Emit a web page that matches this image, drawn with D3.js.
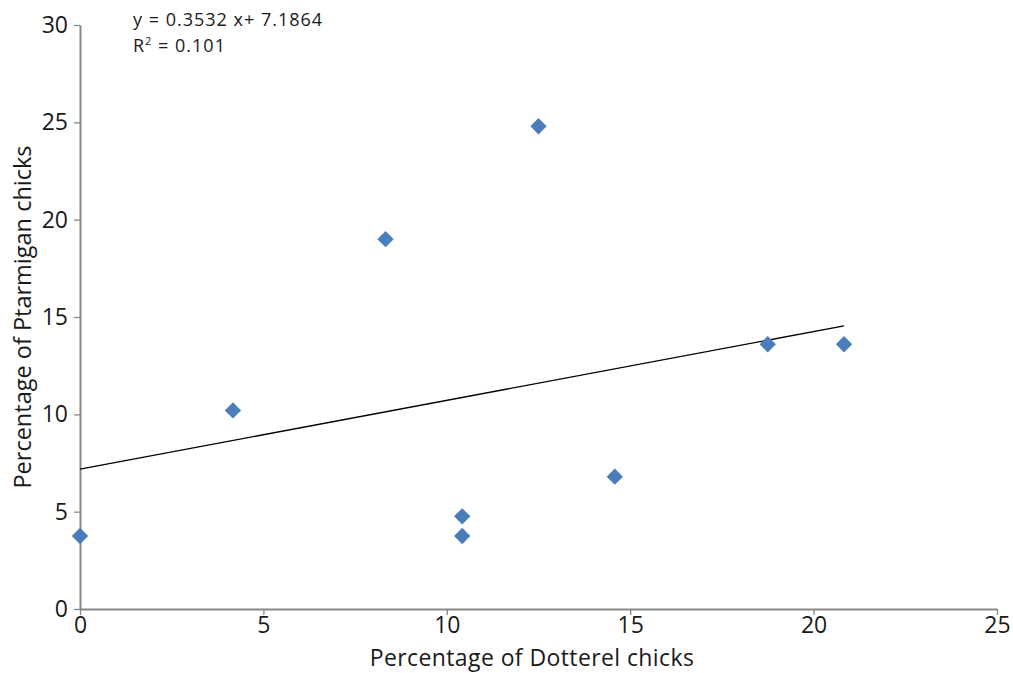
<!DOCTYPE html>
<html>
<head>
<meta charset="utf-8">
<script src="https://cdn.jsdelivr.net/npm/d3@7"></script>
<style>
  body { margin: 0; background: #fff; }
  svg text { font-family: "Open Sans", "DejaVu Sans", sans-serif; fill: #1a1a1a; }
</style>
</head>
<body>
<svg id="chart" width="1013" height="673"></svg>
<script>
var dotterel = [0, 4.17, 8.33, 10.42, 10.42, 12.5, 14.58, 18.75, 20.83];
var ptarmigan = [3.75, 10.2, 19.0, 4.76, 3.75, 24.8, 6.8, 13.6, 13.6];
var xTicks = [0, 5, 10, 15, 20, 25];
var yTicks = [0, 5, 10, 15, 20, 25, 30];
var slope = 0.3532, intercept = 7.1864;
var equationText = "y = 0.3532 x+ 7.1864";
var r2Text = "0.101";

var svg = d3.select('#chart');
var margin = { top: 25, right: 16, bottom: 64, left: 80 };
var width = 1013, height = 673;

var x = d3.scaleLinear().domain([0, 25]).range([margin.left, width - margin.right]);
var y = d3.scaleLinear().domain([0, 30]).range([height - margin.bottom, margin.top]);

// axes
var xAxis = svg.append("g")
    .attr("transform", "translate(0," + y(0) + ")")
    .call(d3.axisBottom(x).tickValues(xTicks).tickSizeInner(6).tickSizeOuter(0).tickPadding(2));
var yAxis = svg.append("g")
    .attr("transform", "translate(" + x(0) + ",0)")
    .call(d3.axisLeft(y).tickValues(yTicks).tickSizeInner(6).tickSizeOuter(0).tickPadding(6));

[xAxis, yAxis].forEach(function (g) {
    g.select(".domain").attr("stroke", "#888").attr("stroke-width", 2);
    g.selectAll(".tick line").attr("stroke", "#888").attr("stroke-width", 1.3);
    g.selectAll(".tick text").style("font-size", "23px").attr("fill", "#1a1a1a");
});

// trendline
svg.append("line")
    .attr("x1", x(0))
    .attr("y1", y(intercept))
    .attr("x2", x(d3.max(dotterel)))
    .attr("y2", y(slope * d3.max(dotterel) + intercept))
    .attr("stroke", "#000")
    .attr("stroke-width", 1.3);

// points
svg.selectAll(".pt")
    .data(dotterel)
    .enter()
    .append("path")
    .attr("class", "pt")
    .attr("d", d3.symbol().type(d3.symbolDiamond2).size(170))
    .attr("transform", function (d, i) { return "translate(" + x(d) + "," + y(ptarmigan[i]) + ")"; })
    .attr("fill", "#4a7ebb");

// equation
svg.append("text")
    .attr("x", 133)
    .attr("y", 26)
    .style("font-size", "18px")
    .style("letter-spacing", "1px")
    .text(equationText);
var r2 = svg.append("text")
    .attr("x", 133)
    .attr("y", 52)
    .style("font-size", "18px")
    .style("letter-spacing", "1px");
r2.append("tspan").text("R");
r2.append("tspan").attr("dy", -7).style("font-size", "11px").text("2");
r2.append("tspan").attr("dy", 7).text(" = " + r2Text);

// axis titles
svg.append("text")
    .attr("x", 532)
    .attr("y", 666)
    .attr("text-anchor", "middle")
    .style("font-size", "23px")
    .style("letter-spacing", "0.4px")
    .text("Percentage of Dotterel chicks");
svg.append("text")
    .attr("transform", "translate(31,317) rotate(-90)")
    .attr("text-anchor", "middle")
    .style("font-size", "23.5px")
    .text("Percentage of Ptarmigan chicks");
</script>
</body>
</html>
